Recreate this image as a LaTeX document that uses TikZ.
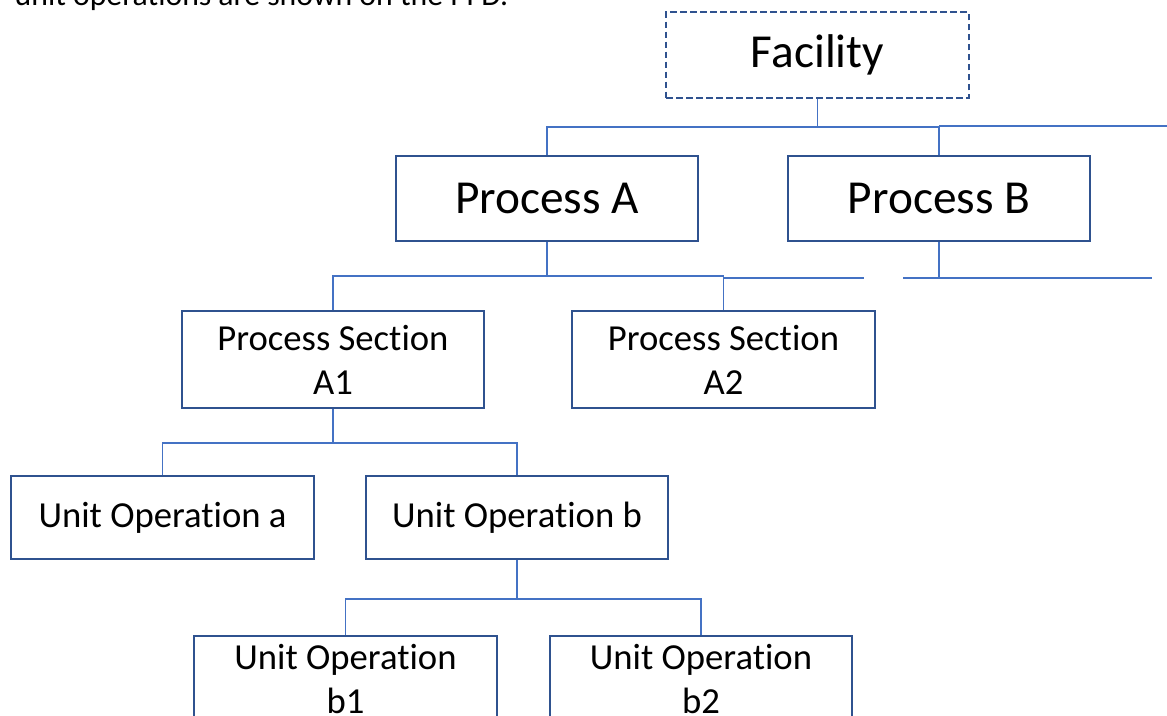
\documentclass[tikz,border=0pt]{standalone}
\usepackage{fontspec}
\setmainfont{Carlito}[Ligatures=NoCommon]
\usepackage{tikz}

\definecolor{boxblue}{HTML}{2F528F}
\definecolor{linkblue}{HTML}{4472C4}

\tikzset{
  box/.style={draw=boxblue, line width=1.5pt, fill=white, align=center,
    minimum width=227pt, inner sep=0pt},
  bigbox/.style={box, minimum height=64pt, font=\fontsize{35.5}{42}\selectfont},
  smallbox/.style={box, minimum height=63pt, font=\fontsize{27.5}{33}\selectfont},
  link/.style={draw=linkblue, line width=0.8pt},
}

\begin{document}
\begin{tikzpicture}[x=0.75pt,y=-0.75pt]
    \useasboundingbox (0,0) rectangle (1167,715);
    \clip (0,0) rectangle (1167,715);
    \node[anchor=base west, font=\fontsize{23.8}{28}\selectfont] (intro) at (10,5)
      {unit operations are shown on the PFD.};

    % top level
    \node[bigbox, dash pattern=on 5pt off 2.5pt] (fac) at (817.5,55) {Facility};
    \node[bigbox] (pa) at (547,198.5) {Process A};
    \node[bigbox] (pb) at (939,198.5) {Process B};

    % sections
    \node[smallbox, minimum height=72.75pt] (sa1) at (333,359.5) {Process Section\\A1};
    \node[smallbox, minimum height=72.75pt] (sa2) at (723.5,359.5) {Process Section\\A2};

    % unit operations
    \node[smallbox, minimum height=62.25pt] (uoa) at (162.5,517.5) {Unit Operation a};
    \node[smallbox, minimum height=62.25pt] (uob) at (517,517.5) {Unit Operation b};
    \node[smallbox, minimum height=64pt] (ub1) at (345.5,678.5) {Unit Operation\\b1};
    \node[smallbox, minimum height=64pt] (ub2) at (701,678.5) {Unit Operation\\b2};

    % connectors
    \coordinate (fj) at (817.5,127);
    \coordinate (fend) at (1167,126);
    \draw[link] (fac.south) -- (fj) -| (pa.north);
    \draw[link] (fj) -| (pb.north);
    \draw[link] (pb.north |- fend) -- (fend);

    \coordinate (paj) at (547,276);
    \coordinate (paend) at (864,278);
    \draw[link] (pa.south) -- (paj) -| (sa1.north);
    \draw[link] (paj) -| (sa2.north);
    \draw[link] (sa2.north |- paend) -- (paend);

    \coordinate (pbj) at (939,278);
    \coordinate (pbl) at (903,278);
    \coordinate (pbr) at (1152,278);
    \draw[link] (pb.south) -- (pbj);
    \draw[link] (pbl) -- (pbr);

    \coordinate (saj) at (333,443);
    \draw[link] (sa1.south) -- (saj) -| (uoa.north);
    \draw[link] (saj) -| (uob.north);

    \coordinate (uoj) at (517,599);
    \draw[link] (uob.south) -- (uoj) -| (ub1.north);
    \draw[link] (uoj) -| (ub2.north);
\end{tikzpicture}
\end{document}
